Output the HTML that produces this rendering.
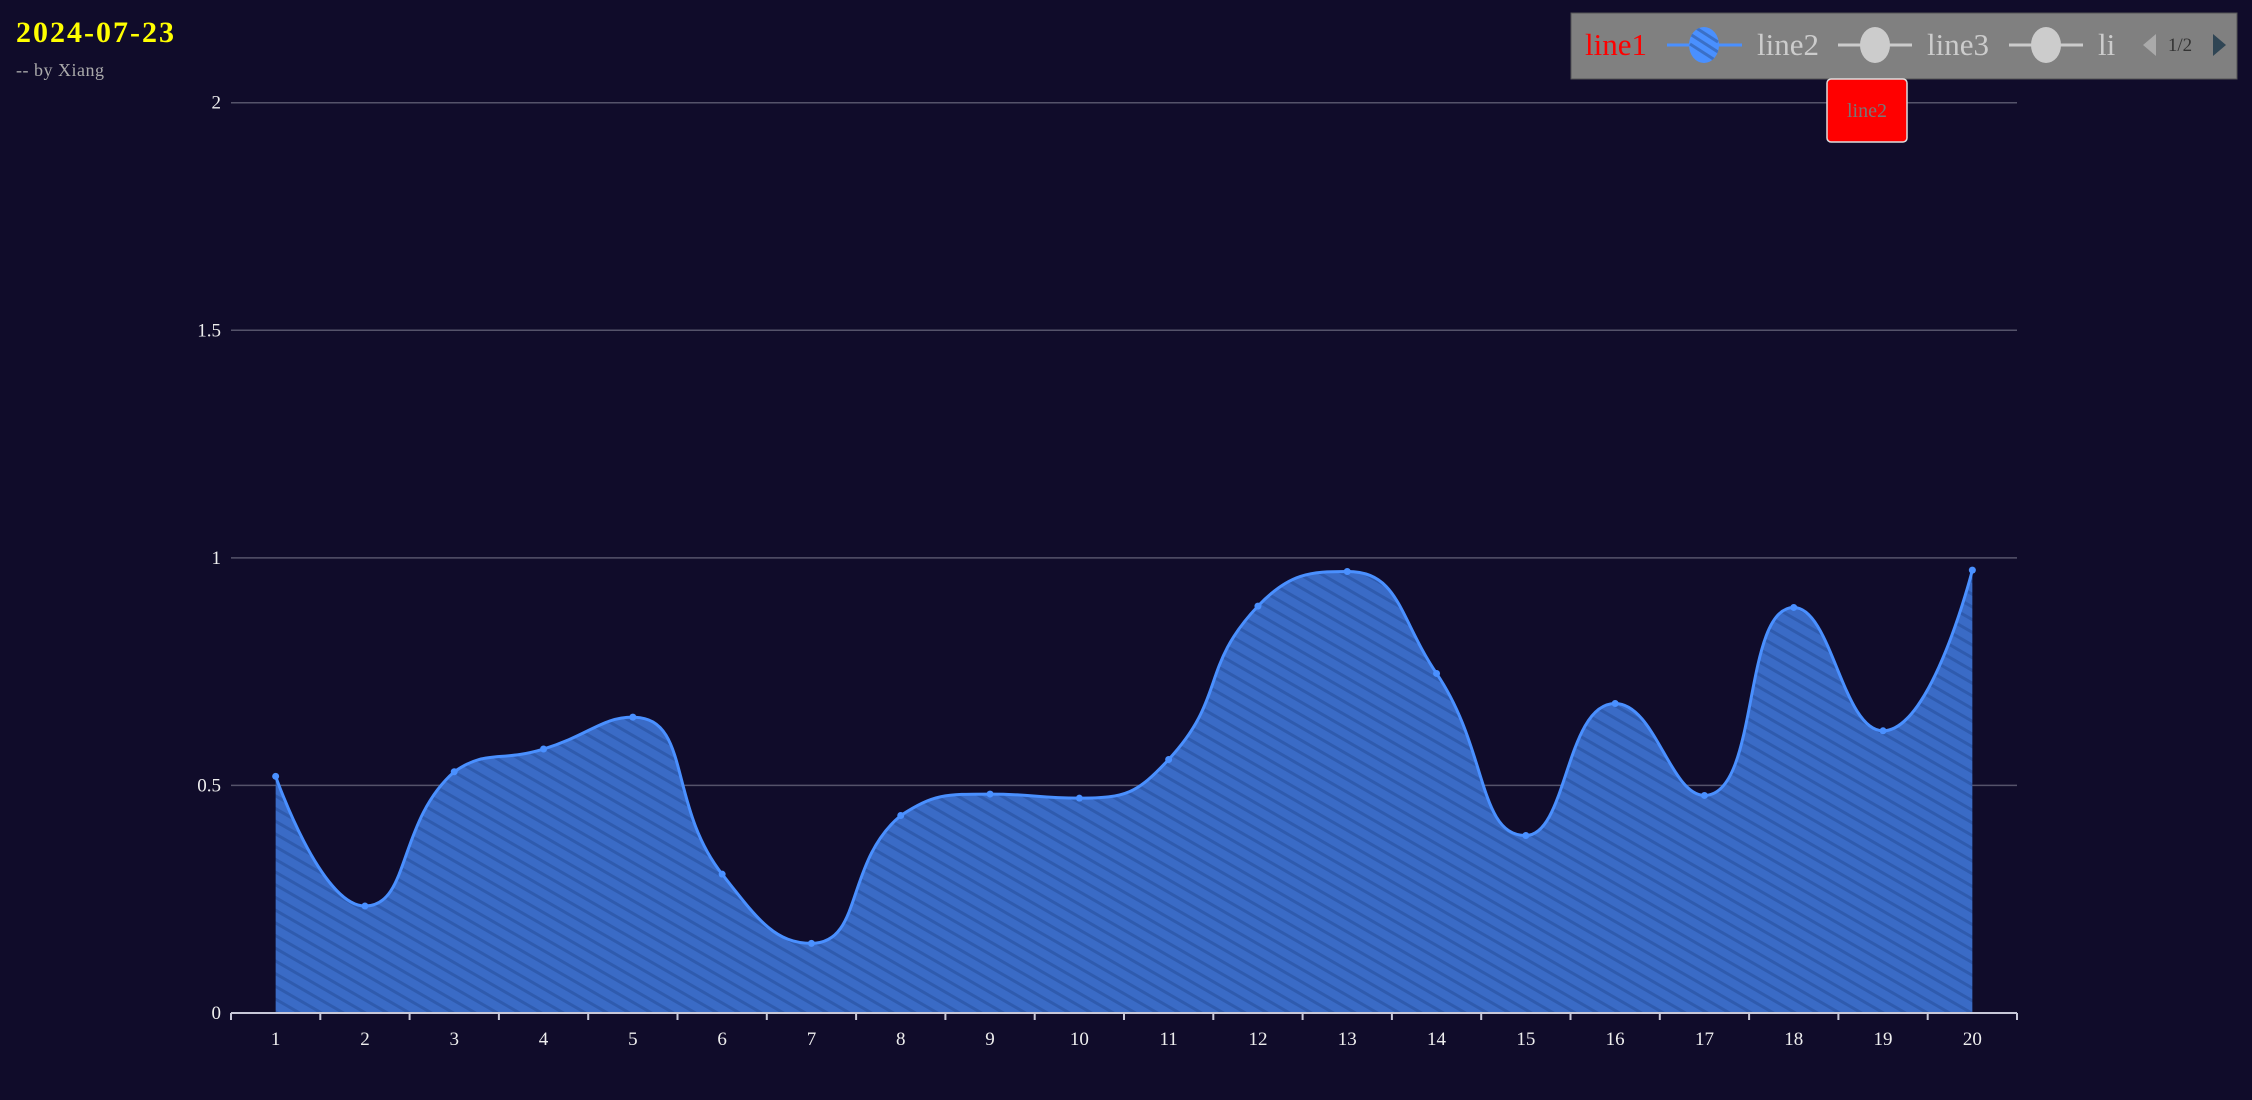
<!DOCTYPE html>
<html><head><meta charset="utf-8"><style>
html,body{margin:0;padding:0;background:#100c2a;}
svg{display:block;font-family:"Liberation Serif",serif;}
</style></head><body>
<svg width="2252" height="1100" viewBox="0 0 2252 1100">
<defs>
<pattern id="hatch" patternUnits="userSpaceOnUse" width="20" height="11" patternTransform="rotate(30)">
<rect width="20" height="11" fill="#3a6bc6"/>
<rect width="20" height="3" fill="#2f5bae"/>
</pattern>
<clipPath id="lc"><ellipse cx="1704" cy="45" rx="15" ry="18"/></clipPath>
</defs>
<rect width="2252" height="1100" fill="#100c2a"/>
<text x="16" y="42" fill="#ffff00" font-size="30" font-weight="bold" letter-spacing="2">2024-07-23</text>
<text x="16" y="76" fill="#aaaaaa" font-size="18" letter-spacing="0.5">-- by Xiang</text>
<g id="grid"></g>
<g id="plot"></g>
<g id="xaxis"></g>
<g>
<rect x="1571" y="13" width="666" height="66" fill="#808080" stroke="#555" stroke-width="1"/>
<text x="1585" y="55" fill="#ff0000" font-size="31">line1</text>
<line x1="1667" y1="45" x2="1742" y2="45" stroke="#4a90ff" stroke-width="3"/>
<ellipse cx="1704" cy="45" rx="15" ry="18" fill="#4a90ff"/>
<g clip-path="url(#lc)"><line x1="1690" y1="34" x2="1718" y2="52" stroke="#3a70c8" stroke-width="3"/><line x1="1690" y1="44" x2="1718" y2="62" stroke="#3a70c8" stroke-width="3"/><line x1="1690" y1="24" x2="1718" y2="42" stroke="#3a70c8" stroke-width="3"/></g>
<text x="1757" y="55" fill="#cccccc" font-size="31">line2</text>
<line x1="1838" y1="45" x2="1912" y2="45" stroke="#cccccc" stroke-width="3"/>
<ellipse cx="1875" cy="45" rx="15" ry="18" fill="#cccccc"/>
<text x="1927" y="55" fill="#cccccc" font-size="31">line3</text>
<line x1="2009" y1="45" x2="2083" y2="45" stroke="#cccccc" stroke-width="3"/>
<ellipse cx="2046" cy="45" rx="15" ry="18" fill="#cccccc"/>
<text x="2098" y="55" fill="#cccccc" font-size="31">li</text>
<polygon points="2143,45 2156,34 2156,56" fill="#aaaaaa"/>
<text x="2180" y="51" fill="#333" font-size="19" text-anchor="middle">1/2</text>
<polygon points="2226,45 2213,34 2213,56" fill="#2f4554"/>
</g>
<g>
<rect x="1827" y="79" width="80" height="63" rx="4" fill="#ff0000" stroke="#ddd" stroke-width="1.5"/>
<text x="1867" y="117" fill="#777" font-size="20" text-anchor="middle">line2</text>
</g>
</svg>
<script>
const categories=["1","2","3","4","5","6","7","8","9","10","11","12","13","14","15","16","17","18","19","20"];
const values=[0.52,0.235,0.53,0.58,0.65,0.305,0.153,0.434,0.481,0.472,0.557,0.894,0.97,0.746,0.39,0.68,0.478,0.891,0.62,0.973];
const yTicks=[0,0.5,1,1.5,2];
const yTickLabels=["0","0.5","1","1.5","2"];
const NS="http://www.w3.org/2000/svg";
const L=231,R=2017,T=102.7,B=1013,yMax=2;
const band=(R-L)/categories.length;
function xs(i){return L+band*(i+0.5);}
function ys(v){return B-(v/yMax)*(B-T);}
function mk(t,a,p){const e=document.createElementNS(NS,t);for(const k in a)e.setAttribute(k,a[k]);p.appendChild(e);return e;}
const grid=document.getElementById('grid'),plot=document.getElementById('plot'),xa=document.getElementById('xaxis');
yTicks.forEach((v,i)=>{
 if(v>0){const g=mk('line',{x1:L,x2:R,y1:ys(v),y2:ys(v),stroke:'#55536a','stroke-width':1.5},grid);
 
 }
 const t=mk('text',{x:L-10,y:ys(v)+6,fill:'#eeeeee','font-size':19,'text-anchor':'end'},grid);
 t.textContent=yTickLabels[i];
 
 
});
const pts=values.map((v,i)=>[xs(i),ys(v)]);
const n=pts.length,s=0.5;
const cpPrev=[],cpNext=[];
for(let i=0;i<n;i++){
 const p=pts[i];
 if(i===0||i===n-1){cpPrev[i]=p.slice();cpNext[i]=p.slice();continue;}
 const a=pts[i-1],b=pts[i+1];
 let vx=(b[0]-a[0])*s,vy=(b[1]-a[1])*s;
 if((p[1]-a[1])*(p[1]-b[1])>=0) vy=0;
 const d0=Math.hypot(p[0]-a[0],p[1]-a[1]),d1=Math.hypot(p[0]-b[0],p[1]-b[1]);
 const r0=d0/(d0+d1),r1=d1/(d0+d1);
 let c0=[p[0]-vx*r0,p[1]-vy*r0],c1=[p[0]+vx*r1,p[1]+vy*r1];
 const clampY=(c,q)=>{const lo=Math.min(p[1],q[1]),hi=Math.max(p[1],q[1]);c[1]=Math.max(lo,Math.min(hi,c[1]));};
 clampY(c0,a);clampY(c1,b);
 cpPrev[i]=c0;cpNext[i]=c1;
}
let d='M'+pts[0][0]+','+pts[0][1];
for(let i=0;i<n-1;i++){
 const c1=cpNext[i],c2=cpPrev[i+1],p2=pts[i+1];
 d+=' C'+c1[0]+','+c1[1]+' '+c2[0]+','+c2[1]+' '+p2[0]+','+p2[1];
}
const area=mk('path',{d:d+' L'+pts[n-1][0]+','+B+' L'+pts[0][0]+','+B+' Z',fill:'url(#hatch)'},plot);


const line=mk('path',{d:d,fill:'none',stroke:'#4a90ff','stroke-width':3},plot);


pts.forEach(p=>{const c=mk('circle',{cx:p[0],cy:p[1],r:3.5,fill:'#4a90ff'},plot);
 
 });
const ax=mk('line',{x1:L,x2:R,y1:B,y2:B,stroke:'#c8c8d8','stroke-width':2},xa);


for(let i=0;i<=categories.length;i++){
 const tk=mk('line',{x1:L+band*i,x2:L+band*i,y1:B,y2:B+7,stroke:'#c8c8d8','stroke-width':2},xa);
 
 
}
categories.forEach((c,i)=>{const t=mk('text',{x:xs(i),y:B+32,fill:'#eeeeee','font-size':19,'text-anchor':'middle'},xa);
 t.textContent=c;
 
 });
</script>
</body></html>
